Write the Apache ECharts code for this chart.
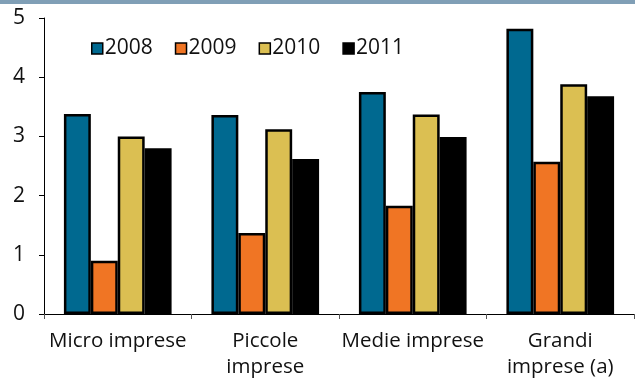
<!DOCTYPE html>
<html>
<head>
<meta charset="utf-8">
<script src="https://cdn.jsdelivr.net/npm/echarts@6/dist/echarts.min.js"></script>
<style>
  html, body { margin: 0; padding: 0; background: #fff; }
  #main { width: 635px; height: 380px; }
</style>
</head>
<body>
<div id="main"></div>
<script>
var categories = ['Micro imprese', 'Piccole\nimprese', 'Medie imprese', 'Grandi\nimprese (a)'];
var years = ['2008', '2009', '2010', '2011'];
var v2008 = [3.38, 3.36, 3.75, 4.82];
var v2009 = [0.90, 1.37, 1.83, 2.57];
var v2010 = [3.00, 3.12, 3.37, 3.88];
var v2011 = [2.80, 2.62, 2.99, 3.68];
var yTicks = [0, 1, 2, 3, 4, 5];

var colors = ['#006990', '#f07524', '#dbbf52', '#000000'];
var values = [v2008, v2009, v2010, v2011];
var font = '"Open Sans", "Noto Sans", sans-serif';

/* one bar series per year */
var series = years.map(function (y, i) {
    return {
        name: y,
        type: 'bar',
        data: values[i],
        barGap: '0%',
        barCategoryGap: '27%',
        itemStyle: { color: colors[i], borderColor: '#000', borderWidth: 2.5 }
    };
});

var chart = echarts.init(document.getElementById('main'));
chart.setOption({
    animation: false,
    textStyle: { fontFamily: font },
    graphic: [{
        type: 'rect',
        shape: { x: 0, y: 0, width: 635, height: 4 },
        style: { fill: '#809fb6' }
    }],
    legend: {
        data: years,
        left: 86,
        top: 33,
        itemWidth: 11,
        itemHeight: 11,
        itemGap: 22,
        icon: 'rect',
        itemStyle: { borderColor: '#000', borderWidth: 1.5 },
        textStyle: { fontSize: 21, color: '#111', fontFamily: font, padding: [0, 0, 0, -3] }
    },
    grid: { left: 44, right: 1, top: 18, bottom: 63, containLabel: false },
    xAxis: {
        type: 'category',
        data: categories,
        axisLine: { lineStyle: { color: '#000', width: 1 } },
        axisTick: { show: true, length: 5, lineStyle: { color: '#555' } },
        axisLabel: { fontSize: 20.5, color: '#111', margin: 14, lineHeight: 26, interval: 0, align: 'center' }
    },
    yAxis: {
        type: 'value',
        min: yTicks[0],
        max: yTicks[yTicks.length - 1],
        interval: 1,
        splitLine: { show: false },
        axisLine: { show: true, lineStyle: { color: '#000', width: 1 } },
        axisTick: { show: true, length: 5, lineStyle: { color: '#000' } },
        axisLabel: { fontSize: 21, color: '#111', margin: 19 }
    },
    series: series
});
</script>
</body>
</html>
